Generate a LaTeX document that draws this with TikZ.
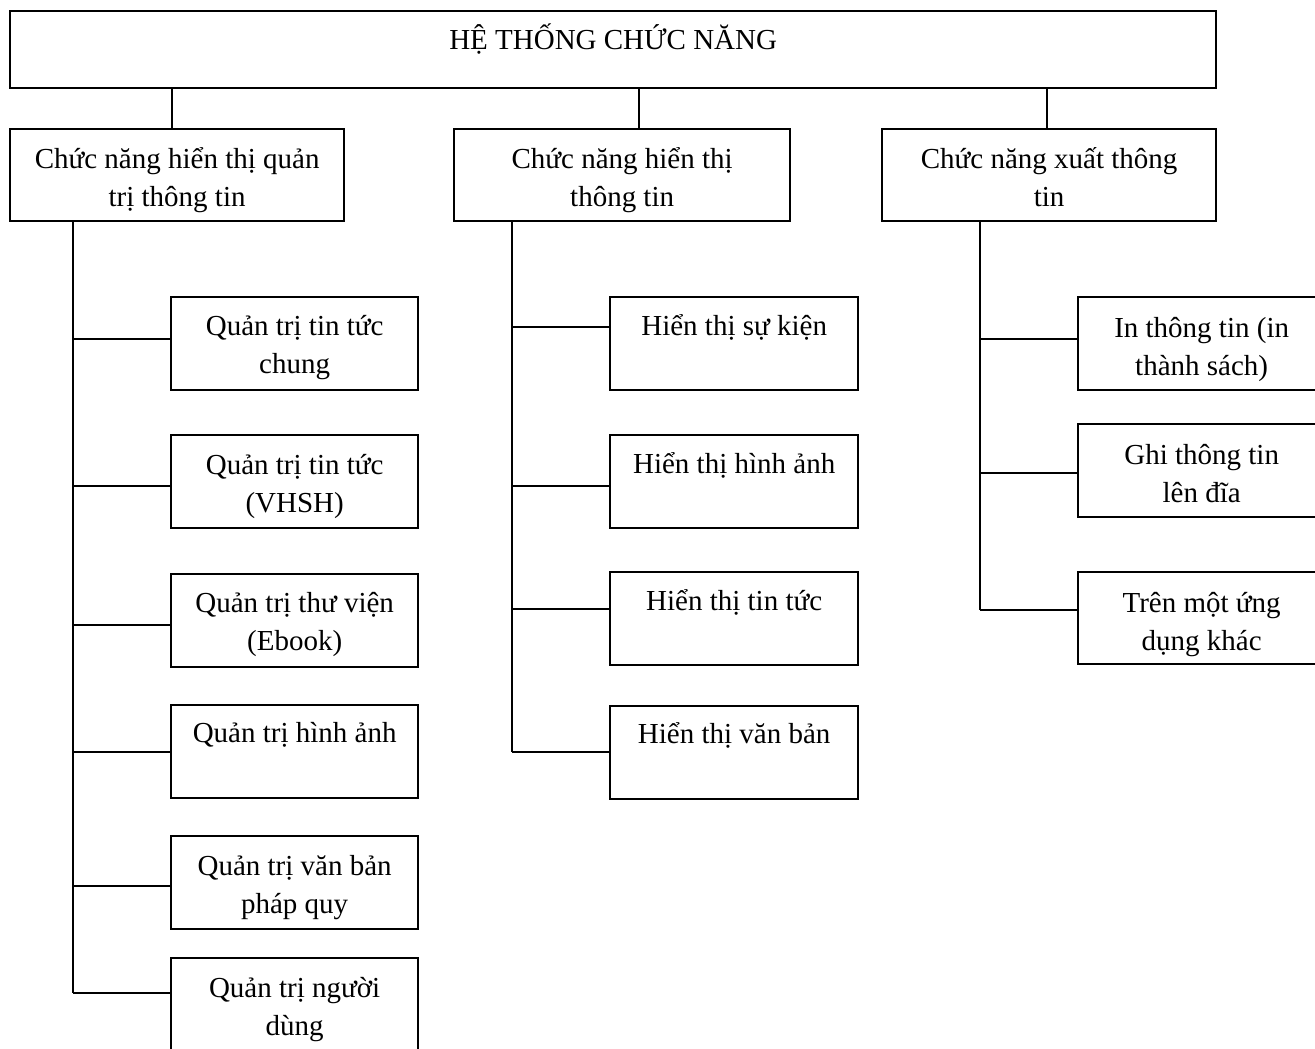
\documentclass[tikz,border=0pt]{standalone}
\usepackage{fontspec}
\setmainfont{Liberation Serif}
\begin{document}
\begin{tikzpicture}[x=1pt,y=-1pt,
  bx/.style={draw, line width=2.3pt, anchor=north west, inner sep=0pt, minimum width=247pt, minimum height=93pt},
  tx/.style={anchor=base, align=center, inner sep=0pt, font=\fontsize{29}{38}\selectfont},
  ln/.style={line width=2.3pt}]
\useasboundingbox (0,0) rectangle (1315,1049);
\clip (0,0) rectangle (1315,1049);

% top
\node[bx, minimum width=1206pt, minimum height=77pt] (top) at (9,10) {};
\node[tx] (topt) at ([yshift=-40pt]top.north) {HỆ THỐNG CHỨC NĂNG};

% level 2 (two-line texts: base anchor is the last line)
\node[bx, minimum width=334pt, minimum height=92pt] (a) at (9,128) {};
\node[bx, minimum width=336pt, minimum height=92pt] (b) at (453,128) {};
\node[bx, minimum width=334pt, minimum height=92pt] (c) at (881,128) {};
\node[tx] (at) at ([yshift=-78pt]a.north) {Chức năng hiển thị quản\\trị thông tin};
\node[tx] (bt) at ([yshift=-78pt]b.north) {Chức năng hiển thị\\thông tin};
\node[tx] (ct) at ([yshift=-78pt]c.north) {Chức năng xuất thông\\tin};

\draw[ln] ([xshift=-5pt]a.north |- top.south) -- ([xshift=-5pt]a.north);
\draw[ln] ([xshift=17pt]b.north |- top.south) -- ([xshift=17pt]b.north);
\draw[ln] ([xshift=-2pt]c.north |- top.south) -- ([xshift=-2pt]c.north);

% left column
\node[bx] (a1) at (170,296) {};
\node[bx] (a2) at (170,434) {};
\node[bx] (a3) at (170,573) {};
\node[bx] (a4) at (170,704) {};
\node[bx] (a5) at (170,835) {};
\node[bx] (a6) at (170,957) {};
\node[tx] (a1t) at ([yshift=-77pt]a1.north) {Quản trị tin tức\\chung};
\node[tx] (a2t) at ([yshift=-78pt]a2.north) {Quản trị tin tức\\(VHSH)};
\node[tx] (a3t) at ([yshift=-77pt]a3.north) {Quản trị thư viện\\(Ebook)};
\node[tx] (a4t) at ([yshift=-38pt]a4.north) {Quản trị hình ảnh};
\node[tx] (a5t) at ([yshift=-78pt]a5.north) {Quản trị văn bản\\pháp quy};
\node[tx] (a6t) at ([yshift=-78pt]a6.north) {Quản trị người\\dùng};

\coordinate (ja1) at (73,339);
\coordinate (ja2) at (73,486);
\coordinate (ja3) at (73,625);
\coordinate (ja4) at (73,752);
\coordinate (ja5) at (73,886);
\coordinate (ja6) at (73,993);
\draw[ln] (ja1 |- a.south) -- (ja6);
\draw[ln] (ja1) -- (ja1 -| a1.west);
\draw[ln] (ja2) -- (ja2 -| a2.west);
\draw[ln] (ja3) -- (ja3 -| a3.west);
\draw[ln] (ja4) -- (ja4 -| a4.west);
\draw[ln] (ja5) -- (ja5 -| a5.west);
\draw[ln] (ja6) -- (ja6 -| a6.west);

% middle column
\node[bx, minimum width=248pt] (b1) at (609,296) {};
\node[bx, minimum width=248pt] (b2) at (609,434) {};
\node[bx, minimum width=248pt] (b3) at (609,571) {};
\node[bx, minimum width=248pt] (b4) at (609,705) {};
\node[tx] (b1t) at ([yshift=-39pt]b1.north) {Hiển thị sự kiện};
\node[tx] (b2t) at ([yshift=-39pt]b2.north) {Hiển thị hình ảnh};
\node[tx] (b3t) at ([yshift=-39pt]b3.north) {Hiển thị tin tức};
\node[tx] (b4t) at ([yshift=-38pt]b4.north) {Hiển thị văn bản};

\coordinate (jb1) at (512,327);
\coordinate (jb2) at (512,486);
\coordinate (jb3) at (512,609);
\coordinate (jb4) at (512,752);
\draw[ln] (jb1 |- b.south) -- (jb4);
\draw[ln] (jb1) -- (jb1 -| b1.west);
\draw[ln] (jb2) -- (jb2 -| b2.west);
\draw[ln] (jb3) -- (jb3 -| b3.west);
\draw[ln] (jb4) -- (jb4 -| b4.west);

% right column
\node[bx] (c1) at (1077,296) {};
\node[bx] (c2) at (1077,423) {};
\node[bx, minimum height=92pt] (c3) at (1077,571) {};
\node[tx] (c1t) at ([yshift=-79pt]c1.north) {In thông tin (in\\thành sách)};
\node[tx] (c2t) at ([yshift=-79pt]c2.north) {Ghi thông tin\\lên đĩa};
\node[tx] (c3t) at ([yshift=-79pt]c3.north) {Trên một ứng\\dụng khác};

\coordinate (jc1) at (980,339);
\coordinate (jc2) at (980,473);
\coordinate (jc3) at (980,610);
\draw[ln] (jc1 |- c.south) -- (jc3);
\draw[ln] (jc1) -- (jc1 -| c1.west);
\draw[ln] (jc2) -- (jc2 -| c2.west);
\draw[ln] (jc3) -- (jc3 -| c3.west);
\end{tikzpicture}
\end{document}
